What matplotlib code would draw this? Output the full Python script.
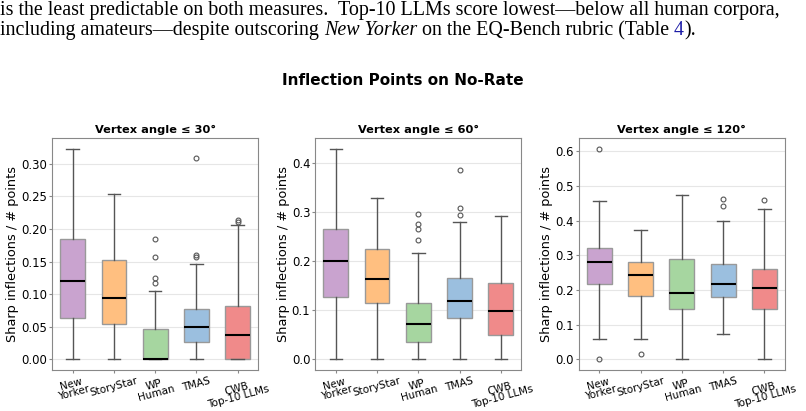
import matplotlib
matplotlib.use("Agg")
import matplotlib.pyplot as plt
import numpy as np

# corpora on the x axis
groups = ["New\nYorker", "StoryStar", "WP\nHuman", "TMAS", "CWB\nTop-10 LLMs"]
colors = ["#c9a3cf", "#ffbf80", "#a6d6a0", "#9bbfdf", "#f08a8a"]
panel_titles = ["Vertex angle ≤ 30°", "Vertex angle ≤ 60°", "Vertex angle ≤ 120°"]

# box summaries: whislo, q1, median, q3, whishi
stats_30 = [
    [0.0, 0.064, 0.120, 0.184, 0.323],
    [0.0, 0.054, 0.094, 0.153, 0.253],
    [0.0, 0.0, 0.0, 0.046, 0.105],
    [0.0, 0.027, 0.050, 0.077, 0.147],
    [0.0, 0.0, 0.037, 0.082, 0.206],
]
fliers_30 = [[], [], [0.184, 0.157, 0.125, 0.117], [0.309, 0.160, 0.157], [0.214, 0.210]]

stats_60 = [
    [0.0, 0.127, 0.200, 0.265, 0.428],
    [0.0, 0.114, 0.163, 0.225, 0.328],
    [0.0, 0.035, 0.072, 0.114, 0.217],
    [0.0, 0.084, 0.118, 0.165, 0.279],
    [0.0, 0.050, 0.098, 0.155, 0.292],
]
fliers_60 = [[], [], [0.296, 0.276, 0.265, 0.243], [0.384, 0.308, 0.293], []]

stats_120 = [
    [0.060, 0.216, 0.280, 0.322, 0.457],
    [0.060, 0.183, 0.243, 0.281, 0.372],
    [0.0, 0.144, 0.192, 0.290, 0.473],
    [0.074, 0.179, 0.217, 0.275, 0.400],
    [0.0, 0.144, 0.205, 0.261, 0.433],
]
fliers_120 = [[0.607, 0.0], [0.016], [], [0.461, 0.442], [0.458]]

panels = [(stats_30, fliers_30), (stats_60, fliers_60), (stats_120, fliers_120)]

# caption lines above the figure, as (text, style, colour) pieces
line1 = [("is the least predictable on both measures.  Top-10 LLMs score lowest\u2014below all human corpora,",
          "normal", "black")]
line2 = [("including amateurs\u2014despite outscoring ", "normal", "black"),
         ("New Yorker", "italic", "black"),
         (" on the EQ-Bench rubric (Table ", "normal", "black"),
         ("4", "normal", "#1a1aa6"),
         (").", "normal", "black")]

fig = plt.figure(figsize=(8.06, 4.11), dpi=100)
renderer = fig.canvas.get_renderer()

for pieces, ybase in [(line1, 0.9635), (line2, 0.914)]:
    x = 0.0
    for txt, style, col in pieces:
        t = fig.text(x, ybase, txt, family="Liberation Serif", fontsize=14.4, style=style,
                     color=col, ha="left", va="baseline")
        bb = t.get_window_extent(renderer)
        x += bb.width / fig.bbox.width

fig.suptitle("Inflection Points on No-Rate", fontweight="bold", fontsize=11, y=0.822)

lefts = [0.0645, 0.391, 0.718]
for i, (st, fl) in enumerate(panels):
    ax = fig.add_axes([lefts[i], 0.0998, 0.256, 0.564])
    bstats = []
    for s, f in zip(st, fl):
        bstats.append(dict(whislo=s[0], q1=s[1], med=s[2], q3=s[3], whishi=s[4], fliers=f))
    bp = ax.bxp(bstats, positions=np.arange(1, 6), widths=0.6, patch_artist=True,
                medianprops=dict(color="black", lw=1.5),
                whiskerprops=dict(color="#555555", lw=1),
                capprops=dict(color="#555555", lw=1),
                flierprops=dict(marker="o", markersize=3.5, markerfacecolor="none",
                                markeredgecolor="#555555", markeredgewidth=0.8))
    for patch, c in zip(bp["boxes"], colors):
        patch.set_facecolor(c)
        patch.set_edgecolor("#999999")
        patch.set_linewidth(1)
    ax.set_xticks(np.arange(1, 6))
    ax.set_xticklabels(groups, rotation=15, fontsize=7.5, linespacing=0.85)
    ax.tick_params(axis="x", pad=1.5, length=2.5, color="#888888")
    ax.tick_params(axis="y", labelsize=8.4, length=2, pad=1.5, color="#888888")
    ax.set_ylabel("Sharp inflections / # points", fontsize=9.3, labelpad=1.5)
    ax.set_title(panel_titles[i], fontweight="bold", fontsize=8.2, pad=4)
    ax.yaxis.grid(True, color="#e6e6e6", lw=0.8)
    ax.set_axisbelow(True)
    for sp in ax.spines.values():
        sp.set_color("#888888")

fig.savefig("out.png", dpi=100)
